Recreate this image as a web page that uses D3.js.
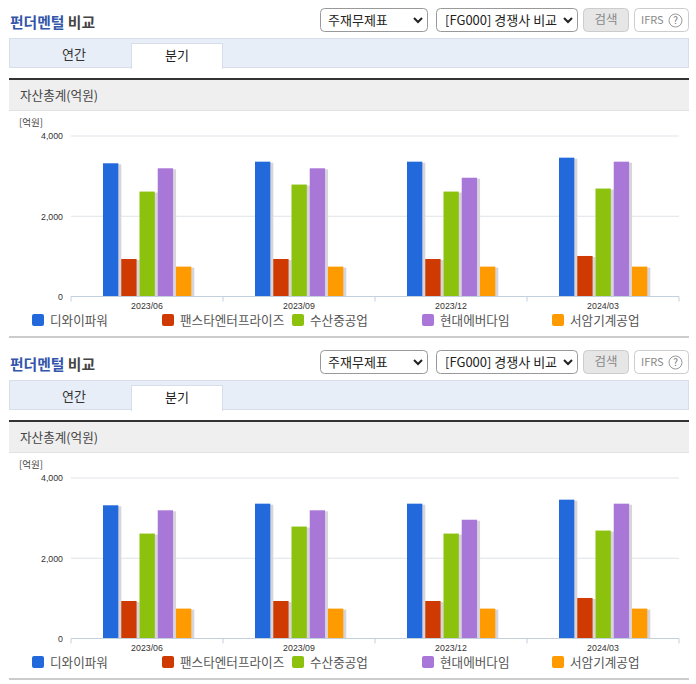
<!DOCTYPE html>
<html>
<head>
<meta charset="utf-8">
<script src="https://cdn.jsdelivr.net/npm/d3@7"></script>
<style>
html, body { margin: 0; padding: 0; background: #fff; }
svg { display: block; }
text { font-family: "Noto Sans CJK KR", "Noto Sans", sans-serif; }
.axis text { font-family: "Liberation Sans", sans-serif; font-size: 8.8px; fill: #333; }
</style>
</head>
<body>
<svg width="696" height="684"></svg>
<script>
var categories = ["2023/06", "2023/09", "2023/12", "2024/03"];
var seriesNames = ["디와이파워", "팬스타엔터프라이즈", "수산중공업", "현대에버다임", "서암기계공업"];
var seriesColors = ["#2269dc", "#cf3a02", "#8cc20e", "#a877d8", "#ff9a00"];
var dyPower = [3320, 3360, 3360, 3460];
var fanstar = [935, 935, 935, 1010];
var susan = [2615, 2790, 2615, 2690];
var everdigm = [3195, 3195, 2960, 3360];
var seoam = [745, 745, 745, 745];
var seriesValues = [dyPower, fanstar, susan, everdigm, seoam];
var yTicks = [0, 2000, 4000];
var legendX = [32, 162, 292, 422, 552];

var svg = d3.select("svg");

var x = d3.scaleBand().domain(categories).range([71, 679]);
var xInner = d3.scaleBand().domain(seriesNames).range([32, 120.3]).paddingInner(0.16);
var y = d3.scaleLinear().domain([0, 4000]).range([296.5, 136]);

function box(g, bx, by, w, h, fill, stroke, r) {
    return g.append("rect")
        .attr("x", bx + 0.5).attr("y", by + 0.5)
        .attr("width", w - 1).attr("height", h - 1)
        .attr("rx", r || 0)
        .attr("fill", fill)
        .attr("stroke", stroke);
}

function label(g, tx, ty, str, size, color, anchor) {
    return g.append("text")
        .attr("x", tx).attr("y", ty)
        .attr("font-size", size)
        .attr("fill", color)
        .attr("text-anchor", anchor || "start")
        .text(str);
}

function chevron(g, cx, cy) {
    g.append("path")
        .attr("d", "M" + (cx - 4) + "," + (cy - 2) + "L" + cx + "," + (cy + 2) + "L" + (cx + 4) + "," + (cy - 2))
        .attr("fill", "none")
        .attr("stroke", "#222")
        .attr("stroke-width", 2);
}

function drawPanel(offset) {
    var g = svg.append("g").attr("transform", "translate(0," + offset + ")");

    // title row
    var title = g.append("text").attr("x", 10).attr("y", 28)
        .attr("font-size", 14.8).attr("font-weight", "bold");
    title.append("tspan").attr("fill", "#3355aa").text("펀더멘털");
    title.append("tspan").attr("fill", "#444").text(" 비교");

    box(g, 320, 8, 108, 24, "#fff", "#999", 4);
    label(g, 328, 25, "주재무제표", 13, "#222");
    chevron(g, 418, 20);
    box(g, 436, 8, 142, 24, "#fff", "#999", 4);
    label(g, 445, 25, "[FG000] 경쟁사 비교", 13, "#222");
    chevron(g, 568, 20);
    box(g, 583, 8, 46, 24, "#e6e6e6", "#ccc", 4);
    label(g, 606, 24, "검색", 12.5, "#888", "middle");
    box(g, 634, 8, 55, 24, "#fff", "#ccc", 4);
    label(g, 641, 24, "IFRS", 11, "#888");
    g.append("circle").attr("cx", 675.5).attr("cy", 20.5).attr("r", 6.5)
        .attr("fill", "#fff").attr("stroke", "#999");
    label(g, 675.5, 24, "?", 10, "#777", "middle");

    // tabs
    box(g, 9, 38, 680, 30, "#e8eef7", "#d6deea");
    box(g, 131, 43, 92, 26, "#fff", "#d6deea");
    g.append("rect").attr("x", 132).attr("y", 67).attr("width", 90).attr("height", 2).attr("fill", "#fff");
    label(g, 74, 59, "연간", 13, "#333", "middle");
    label(g, 177, 60, "분기", 13, "#222", "middle");

    // section header
    g.append("rect").attr("x", 9).attr("y", 80).attr("width", 680).attr("height", 30).attr("fill", "#efefef");
    g.append("rect").attr("x", 9).attr("y", 78).attr("width", 680).attr("height", 2).attr("fill", "#333");
    g.append("rect").attr("x", 9).attr("y", 110).attr("width", 680).attr("height", 1).attr("fill", "#e2e2e2");
    label(g, 20, 100, "자산총계(억원)", 12.6, "#444");

    label(g, 19, 126, "[억원]", 9.5, "#444");

    // grid and y axis
    g.selectAll(".grid").data(yTicks.filter(function(d) { return d > 0; })).enter().append("line")
        .attr("class", "grid")
        .attr("x1", 71).attr("x2", 679)
        .attr("y1", function(d) { return y(d); })
        .attr("y2", function(d) { return y(d); })
        .attr("stroke", "#dfe3e8");

    var yAxis = g.append("g").attr("class", "axis")
        .attr("transform", "translate(71,0)")
        .call(d3.axisLeft(y).tickValues(yTicks).tickSize(0).tickPadding(8).tickFormat(d3.format(",")));
    yAxis.select(".domain").remove();

    // bars, each with a soft shadow on its right side
    seriesValues.forEach(function(values, i) {
        var name = seriesNames[i];
        g.selectAll(".shadow" + i).data(values).enter().append("rect")
            .attr("class", "shadow" + i)
            .attr("x", function(d, j) { return x(categories[j]) + xInner(name) + 2; })
            .attr("y", function(d) { return y(d) + 1; })
            .attr("width", xInner.bandwidth() + 1)
            .attr("height", function(d) { return y(0) - y(d) - 1; })
            .attr("fill", "#d8d4dc");
        g.selectAll(".bar" + i).data(values).enter().append("rect")
            .attr("class", "bar" + i)
            .attr("x", function(d, j) { return x(categories[j]) + xInner(name); })
            .attr("y", function(d) { return y(d); })
            .attr("width", xInner.bandwidth())
            .attr("height", function(d) { return y(0) - y(d); })
            .attr("fill", seriesColors[i]);
    });

    // x axis: labels centred, tick marks on the band edges
    var xAxis = g.append("g").attr("class", "axis")
        .attr("transform", "translate(0," + y(0) + ")")
        .call(d3.axisBottom(x).tickSize(0).tickPadding(6));
    xAxis.select(".domain").remove();
    xAxis.append("line").attr("x1", 71).attr("x2", 679).attr("stroke", "#c3d0de");
    var edges = categories.map(function(c) { return x(c); }).concat([x.range()[1]]);
    xAxis.selectAll(".edge").data(edges).enter().append("line")
        .attr("class", "edge")
        .attr("x1", function(d) { return d; })
        .attr("x2", function(d) { return d; })
        .attr("y1", 0).attr("y2", 5)
        .attr("stroke", "#c3d0de");

    // legend
    seriesNames.forEach(function(name, i) {
        g.append("rect")
            .attr("x", legendX[i]).attr("y", 314)
            .attr("width", 12).attr("height", 12).attr("rx", 2)
            .attr("fill", seriesColors[i]);
        label(g, legendX[i] + 18, 325, name, 12.6, "#555");
    });

    g.append("rect").attr("x", 9).attr("y", 336).attr("width", 680).attr("height", 2).attr("fill", "#ccc");
}

drawPanel(0);
drawPanel(342);
</script>
</body>
</html>
